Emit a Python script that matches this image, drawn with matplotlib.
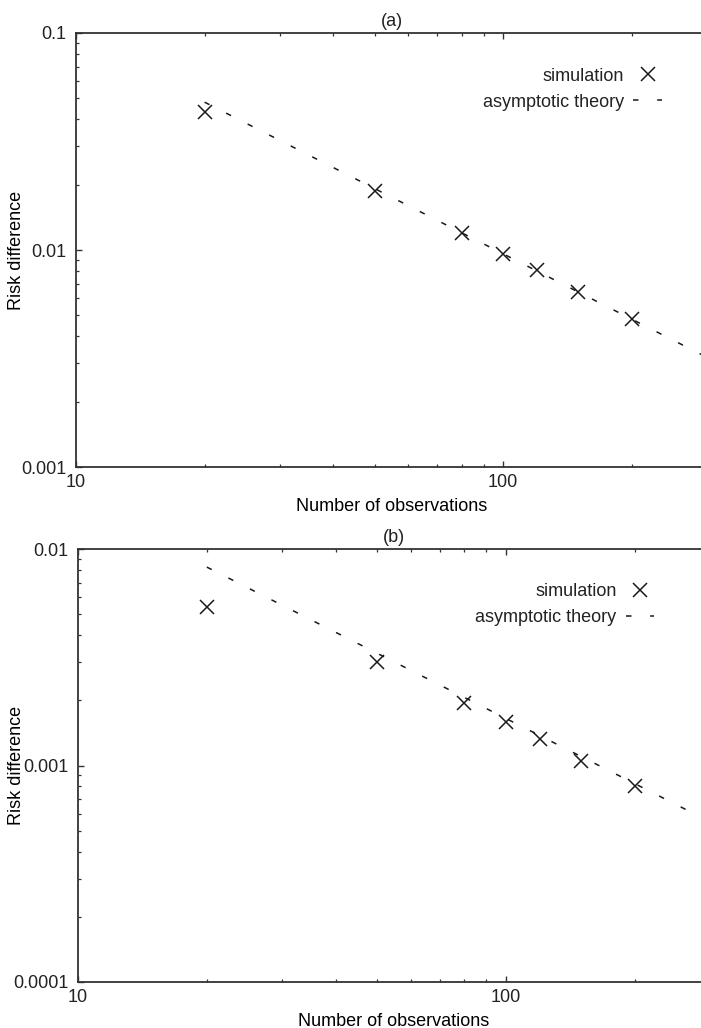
import numpy as np
import matplotlib
matplotlib.use("Agg")
import matplotlib.pyplot as plt
from matplotlib.ticker import NullFormatter, LogLocator

plt.rcParams['font.family'] = ['Liberation Sans', 'DejaVu Sans']
plt.rcParams['font.size'] = 13
plt.rcParams['text.color'] = '#222222'
plt.rcParams['axes.edgecolor'] = '#333333'
plt.rcParams['xtick.color'] = '#333333'
plt.rcParams['ytick.color'] = '#333333'
plt.rcParams['xtick.labelcolor'] = '#222222'
plt.rcParams['ytick.labelcolor'] = '#222222'

# number of observations
n_obs = [20, 50, 80, 100, 120, 150, 200]

# panel (a)
sim_a = [0.0433, 0.0188, 0.0120, 0.0096, 0.0081, 0.0064, 0.0048]
theory_n_a = [20, 300]
theory_a = [0.048, 0.0032]

# panel (b)
sim_b = [0.0054, 0.0030, 0.00194, 0.00158, 0.00132, 0.00105, 0.00080]
theory_n_b = [20, 266]
theory_b = [0.00825, 0.00062]

panels = [
    ("(a)", sim_a, theory_n_a, theory_a, (0.001, 0.1), ['0.001', '0.01', '0.1'],
     [0.1084, 0.5457, 0.9002, 0.4222], (0.929, 0.92), -0.081),
    ("(b)", sim_b, theory_n_b, theory_b, (0.0001, 0.01), ['0.0001', '0.001', '0.01'],
     [0.1113, 0.04475, 0.9016, 0.4212], (0.912, 0.921), -0.084),
]

fig = plt.figure(figsize=(7.01, 10.28), dpi=100)

for title, sim, tn, th, ylim, ylabels, pos, leg_anchor, ylab_x in panels:
    ax = fig.add_axes(pos)
    ax.set_xscale('log')
    ax.set_yscale('log')
    ax.plot(n_obs, sim, linestyle='none', marker='x', markersize=9.5,
            markeredgewidth=1.1, color='#1a1a1a', label='simulation')
    ax.plot(tn, th, color='#1a1a1a', linewidth=1.1, dashes=(3.6, 12.2),
            label='asymptotic theory')
    ax.set_xlim(10, 300)
    ax.set_ylim(*ylim)
    ax.set_xticks([10, 100], ['10', '100'])
    yt = [ylim[0], ylim[0] * 10, ylim[1]]
    ax.set_yticks(yt, ylabels)
    ax.xaxis.set_minor_locator(LogLocator(base=10, subs=np.arange(2, 10)))
    ax.yaxis.set_minor_locator(LogLocator(base=10, subs=np.arange(2, 10)))
    ax.xaxis.set_minor_formatter(NullFormatter())
    ax.yaxis.set_minor_formatter(NullFormatter())
    ax.tick_params(which='both', direction='in', top=True, right=False)
    ax.tick_params(which='major', length=4.5, width=1, labelsize=13)
    ax.tick_params(axis='x', which='major', pad=5)
    ax.tick_params(axis='y', which='major', pad=7)
    ax.tick_params(which='minor', length=2, width=0.9)
    for s in ax.spines.values():
        s.set_linewidth(1.3)
    ax.set_title(title, fontsize=13, pad=5)
    ax.set_xlabel('Number of observations', fontsize=13, labelpad=5)
    ax.set_ylabel('Risk difference', fontsize=13)
    ax.yaxis.set_label_coords(ylab_x, 0.5)
    ax.legend(loc='upper right', bbox_to_anchor=leg_anchor, frameon=False,
              markerfirst=False, borderpad=0, borderaxespad=0,
              handlelength=1.6, handletextpad=0.5, labelspacing=0.5,
              fontsize=13)

fig.savefig('out.png', dpi=100)
